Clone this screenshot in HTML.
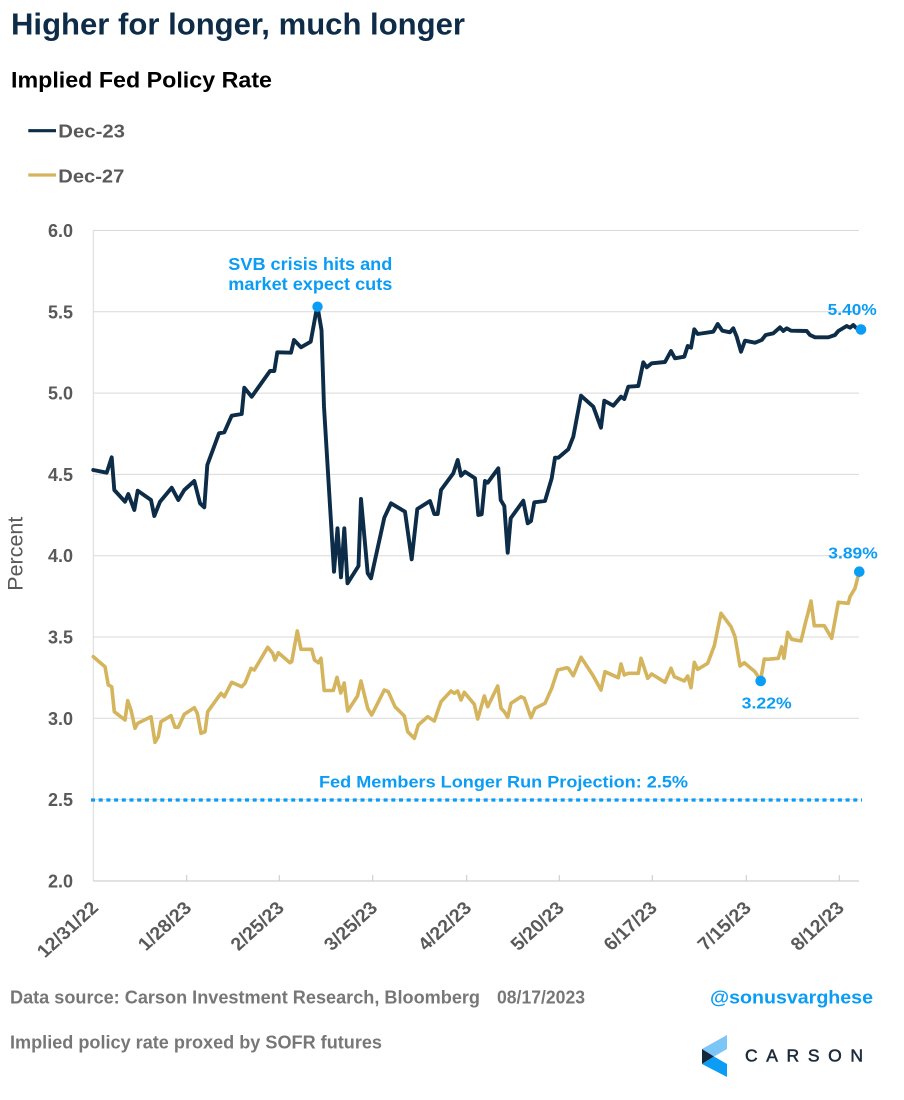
<!DOCTYPE html>
<html>
<head>
<meta charset="utf-8">
<style>
  html, body { margin: 0; padding: 0; background: #ffffff; }
  body { width: 904px; height: 1100px; overflow: hidden; }
  svg { display: block; }
  text { font-family: "Liberation Sans", Arial, sans-serif; }
</style>
</head>
<body>
<svg width="904" height="1100" viewBox="0 0 904 1100" xmlns="http://www.w3.org/2000/svg">
  <rect width="904" height="1100" fill="#ffffff"/>

  <!-- Title & subtitle -->
  <text x="11" y="34.3" font-size="31" font-weight="bold" fill="#0e2c48" textLength="454" lengthAdjust="spacingAndGlyphs">Higher for longer, much longer</text>
  <text x="11" y="87.7" font-size="22.5" font-weight="bold" fill="#000000" textLength="261" lengthAdjust="spacingAndGlyphs">Implied Fed Policy Rate</text>

  <!-- Legend -->
  <line x1="28.3" y1="130.7" x2="56" y2="130.7" stroke="#0c2c48" stroke-width="3.2"/>
  <text x="58.3" y="137.3" font-size="18.5" font-weight="bold" fill="#595959" textLength="66.7" lengthAdjust="spacingAndGlyphs">Dec-23</text>
  <line x1="28.3" y1="175" x2="56" y2="175" stroke="#d4b45c" stroke-width="3.2"/>
  <text x="58.3" y="182.5" font-size="18.5" font-weight="bold" fill="#595959" textLength="66" lengthAdjust="spacingAndGlyphs">Dec-27</text>

  <!-- Gridlines -->
  <g stroke="#d9d9d9" stroke-width="1">
    <line x1="93.3" y1="230.5" x2="859" y2="230.5"/>
    <line x1="93.3" y1="311.8" x2="859" y2="311.8"/>
    <line x1="93.3" y1="393.1" x2="859" y2="393.1"/>
    <line x1="93.3" y1="474.4" x2="859" y2="474.4"/>
    <line x1="93.3" y1="555.7" x2="859" y2="555.7"/>
    <line x1="93.3" y1="637" x2="859" y2="637"/>
    <line x1="93.3" y1="718.3" x2="859" y2="718.3"/>
    <line x1="93.3" y1="799.6" x2="859" y2="799.6"/>
    <line x1="93.3" y1="230.5" x2="93.3" y2="881"/>
  </g>
  <!-- X axis -->
  <g stroke="#d0d0d0" stroke-width="1.2">
    <line x1="93.3" y1="881" x2="859" y2="881"/>
    <line x1="186.7" y1="875" x2="186.7" y2="881"/>
    <line x1="279.3" y1="875" x2="279.3" y2="881"/>
    <line x1="372.7" y1="875" x2="372.7" y2="881"/>
    <line x1="466.7" y1="875" x2="466.7" y2="881"/>
    <line x1="559.3" y1="875" x2="559.3" y2="881"/>
    <line x1="652.3" y1="875" x2="652.3" y2="881"/>
    <line x1="746.3" y1="875" x2="746.3" y2="881"/>
    <line x1="839.3" y1="875" x2="839.3" y2="881"/>
  </g>

  <!-- Y labels -->
  <g font-size="18" font-weight="bold" fill="#595959" text-anchor="end">
    <text x="73" y="237">6.0</text>
    <text x="73" y="318.3">5.5</text>
    <text x="73" y="399.6">5.0</text>
    <text x="73" y="480.9">4.5</text>
    <text x="73" y="562.2">4.0</text>
    <text x="73" y="643.5">3.5</text>
    <text x="73" y="724.8">3.0</text>
    <text x="73" y="806.1">2.5</text>
    <text x="73" y="887.5">2.0</text>
  </g>
  <text transform="translate(22.5,553.7) rotate(-90)" font-size="21.5" fill="#595959" text-anchor="middle">Percent</text>

  <!-- X labels -->
  <g font-size="18" font-weight="bold" fill="#595959" text-anchor="end">
    <text transform="translate(99.5,909) scale(1.1,1) rotate(-45)">12/31/22</text>
    <text transform="translate(192.7,909) scale(1.1,1) rotate(-45)">1/28/23</text>
    <text transform="translate(285.3,909) scale(1.1,1) rotate(-45)">2/25/23</text>
    <text transform="translate(378.7,909) scale(1.1,1) rotate(-45)">3/25/23</text>
    <text transform="translate(472.7,909) scale(1.1,1) rotate(-45)">4/22/23</text>
    <text transform="translate(565.3,909) scale(1.1,1) rotate(-45)">5/20/23</text>
    <text transform="translate(658.3,909) scale(1.1,1) rotate(-45)">6/17/23</text>
    <text transform="translate(752.3,909) scale(1.1,1) rotate(-45)">7/15/23</text>
    <text transform="translate(845.3,909) scale(1.1,1) rotate(-45)">8/12/23</text>
  </g>

  <!-- Fed projection dotted line -->
  <line x1="91" y1="800" x2="862" y2="800" stroke="#0b9cf5" stroke-width="3.3" stroke-dasharray="4 3.7"/>
  <text x="319" y="787.3" font-size="17" font-weight="bold" fill="#0b9cf5" textLength="369" lengthAdjust="spacingAndGlyphs">Fed Members Longer Run Projection: 2.5%</text>

  <!-- Dec-27 series -->
  <polyline fill="none" stroke="#d4b45c" stroke-width="3.6" stroke-linejoin="round" stroke-linecap="round" points="
93.3,656.7 105,666.7 108.3,685 111.7,686.7 114.3,711.7 125,720 127.7,700.7 131,710 135,728.3 137.7,723.3
151,716.7 155,742.3 158.3,736.7 161,721.7 171,715.7 175,727.3 178.3,727.3 184.3,714.3 194.3,707.7 197.3,713.3
201,733.3 205,731.7 207.7,711.7 221,693.3 224.3,696.7 231.7,682.3 241.7,686.7 245,683.3 251,668.3 254.3,670
267.7,647.3 272.7,653.3 275,660 278.3,652.7 290,662.7 291.7,661.7 297.3,631 301,649.3 311.7,649.3 314.5,660
318.3,662.7 321,658.3 324.2,690.5 333.3,690.5 337,677.3 340.7,693 344.2,683 347.7,711 357.5,696 361,681
367.7,708.3 371.7,715 384.3,690 388.3,691.7 395,706.7 404.3,716 407.7,731.7 414.3,738.3 418.3,725 427.7,716.7
434.3,721 441,701.7 451,691 454.3,693.3 457.7,691 461,700 464.3,692.3 474.3,704.3 477.7,719 484.3,696
487.7,706.7 497.7,686 501,708.3 504.3,711.7 507.7,717.3 511,703.3 521,696.7 524.3,698.3 531,717.7 535,708.3
545,703.3 551.7,688.3 557.7,670 566.7,667.7 568.3,668.3 573.3,675.7 581,657.3 592.7,675 601,690 605,671.7
618.3,677.7 621,664 624.3,675 628.3,673.3 638.3,673.3 641,658.3 647.7,678.3 651.7,674 665,682.3 671,668.3
674.3,676.7 684.3,681 687.7,676 691,687.7 694.3,662.3 697.7,669.3 707.7,663.3 714.3,645.7 721,613.3 731,626.7
735,636.7 740,666 744.3,662.7 755,671.7 760.5,680.5 764.3,659 767.7,659.3 778.3,658.3 781.7,646.7 784,658.3
787.7,632.3 791.7,639.3 801,641 805.7,621.7 807.7,614.3 811,601 814.3,625.7 824.3,625.7 831.7,638.3 838.3,602.3
848.3,603.3 850,596.7 855,588.3 859.3,571.7"/>

  <!-- Dec-23 series -->
  <polyline fill="none" stroke="#0c2c48" stroke-width="3.9" stroke-linejoin="round" stroke-linecap="round" points="
93.3,470 106.7,472.7 111.7,457.3 114.3,490 125,501.7 128.3,494 134.3,510 137.7,490.7 151,500 154.3,516
160,501.7 171.7,487.7 178.3,500 184.3,490 194.3,481 200,503.3 204.3,507.3 207.3,465 219,433.3 224.3,432.3
231.7,415.7 241.7,414 244.3,387.7 251.7,396.7 270,371 274.3,371 277.3,352.3 291,352.7 294,340 301,347.3
310.7,341.7 316,312.7 317.5,306.7 321.5,330 324,406.7 334,571.7 337.5,528.3 341,577.3 344.3,528.3 347.5,583.3
358.5,566 361,499 367.7,573.3 371,578.3 384.3,517.7 391,503.3 405,511.7 411.7,559.3 417.3,509 430,501
434.3,514 437.7,514 441,490 453.3,473.3 457.7,460 461,475.7 465,471.7 475,478.3 478.3,515 481.7,514.3
485,481 487.7,482.7 498.3,468.3 500.7,500 504.3,506 507.7,552.7 510.7,518.3 523.3,500.7 527.7,523.3 531,521
534.3,502.3 545,501 551.7,478.3 555,457.7 558.3,457.7 568.3,449.3 573.3,436.7 581,395.7 593.3,406.7 601,427.7
604.3,400.7 613.3,405.7 621,396.7 624.3,399 628.3,386.7 638.3,386 643.3,362.3 646.7,367.3 651.7,363.3 665,362
671,351 675,358.3 684.3,356.7 687.7,346 691,347.7 694.3,329.3 697.7,334 713.3,331.7 717.7,324 722.3,330.7
730,332.3 733.3,328.3 736.7,336.7 741,351.7 745,340.7 755,342.7 761.7,340 765.7,335 773.3,333.3 780,327.3
783.3,331 786.7,328.3 791,330.7 806.7,331 810,335 815,337.3 828.3,337.3 835,335 838.3,331 846.7,326
850,327.7 853.3,325 856,327.7 861,329.3"/>

  <!-- Highlight dots -->
  <g fill="#0b9cf5">
    <circle cx="317.5" cy="306.7" r="5.2"/>
    <circle cx="861" cy="329.5" r="5.3"/>
    <circle cx="859.3" cy="571.7" r="5.3"/>
    <circle cx="760.7" cy="681" r="5.3"/>
  </g>

  <!-- Annotations -->
  <g font-weight="bold" fill="#0b9cf5">
    <text x="228.3" y="270" font-size="17.5" textLength="164" lengthAdjust="spacingAndGlyphs">SVB crisis hits and</text>
    <text x="228.3" y="290" font-size="17.5" textLength="164" lengthAdjust="spacingAndGlyphs">market expect cuts</text>
    <text x="827.7" y="315" font-size="16" textLength="49" lengthAdjust="spacingAndGlyphs">5.40%</text>
    <text x="828.3" y="558.3" font-size="16" textLength="49.4" lengthAdjust="spacingAndGlyphs">3.89%</text>
    <text x="741.7" y="708.3" font-size="16" textLength="50" lengthAdjust="spacingAndGlyphs">3.22%</text>
  </g>

  <!-- Footer -->
  <text x="10" y="1003.5" font-size="18" font-weight="bold" fill="#777777" textLength="470" lengthAdjust="spacingAndGlyphs">Data source: Carson Investment Research, Bloomberg</text>
  <text x="497" y="1003.5" font-size="18" font-weight="bold" fill="#777777" textLength="88" lengthAdjust="spacingAndGlyphs">08/17/2023</text>
  <text x="10" y="1048.5" font-size="18" font-weight="bold" fill="#777777" textLength="372" lengthAdjust="spacingAndGlyphs">Implied policy rate proxed by SOFR futures</text>

  <text x="710" y="1003.3" font-size="18.5" font-weight="bold" fill="#0b9cf5" textLength="163" lengthAdjust="spacingAndGlyphs">@sonusvarghese</text>

  <!-- Carson logo -->
  <polygon points="727,1035 727,1049 714,1056.5 702,1049" fill="#7cc6f7"/>
  <polygon points="702,1049 714,1056.5 702,1064" fill="#14283c"/>
  <polygon points="702,1064 714,1056.5 727,1064 727,1077" fill="#0b9cf5"/>
  <text x="745" y="1061.7" font-size="17.5" fill="#1b2a3a" stroke="#1b2a3a" stroke-width="0.5" textLength="118" lengthAdjust="spacing">CARSON</text>
</svg>
</body>
</html>
